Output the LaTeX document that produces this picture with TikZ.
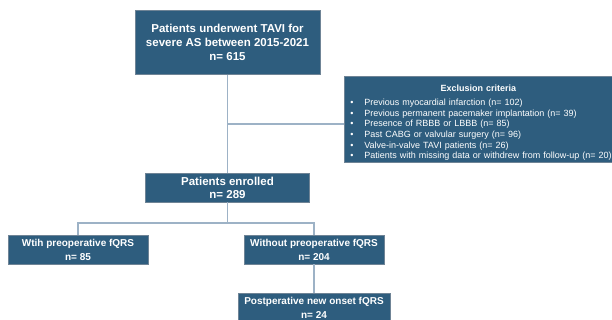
\documentclass[tikz,border=0pt]{standalone}
\usepackage{fontspec}
\setmainfont{Liberation Sans}
\definecolor{boxBlue}{HTML}{2E5D7E}
\definecolor{boxEdge}{HTML}{6F8496}
\definecolor{lineBlue}{HTML}{9DB2C6}
\newcommand{\exItem}[1]{\hspace*{6pt}\makebox[14pt][l]{\textbullet}#1}
\begin{document}
\begin{tikzpicture}[x=1pt,y=-1pt,
    flowBox/.style={draw=boxEdge,line width=0.6pt,fill=boxBlue,text=white,
      inner sep=0pt,align=center,font=\fontsize{10}{14}\selectfont\bfseries},
    link/.style={draw=lineBlue,line width=1.2pt}]
  \useasboundingbox (0,0) rectangle (612,320);
  \pgfmathsetmacro{\splitY}{223}
  \pgfmathsetmacro{\exclY}{124}
  % main column
  \node[flowBox,minimum width=185pt,minimum height=64pt,
    font=\fontsize{11.5}{14}\selectfont\bfseries] (tavi) at (227.5,42.5)
    {Patients underwent TAVI for\\severe AS between 2015-2021\\n= 615};
  \node[flowBox,minimum width=164pt,minimum height=29pt,
    font=\fontsize{11.5}{13}\selectfont\bfseries] (enrolled) at (227.5,187.5)
    {Patients enrolled\\n= 289};
  % exclusion box
  \node[flowBox,anchor=north west,minimum width=268pt,minimum height=86pt,
    text width=268pt,align=left,font=\fontsize{9}{10.7}\selectfont] (excl) at (344,76)
    {\rule{0pt}{14pt}\makebox[268pt][c]{\bfseries Exclusion criteria}\\[3pt]
     \exItem{Previous myocardial infarction (n= 102)}\\
     \exItem{Previous permanent pacemaker implantation (n= 39)}\\
     \exItem{Presence of RBBB or LBBB (n= 85)}\\
     \exItem{Past CABG or valvular surgery (n= 96)}\\
     \exItem{Valve-in-valve TAVI patients (n= 26)}\\
     \exItem{Patients with missing data or withdrew from follow-up (n= 20)}};
  % groups
  \node[flowBox,minimum width=140pt,minimum height=29pt] (withFqrs) at (78,249.5)
    {Wtih preoperative fQRS\\n= 85};
  \node[flowBox,minimum width=140pt,minimum height=29pt] (withoutFqrs) at (314,249.5)
    {Without preoperative fQRS\\n= 204};
  \node[flowBox,minimum width=152pt,minimum height=29pt] (newFqrs) at (314,307.5)
    {Postperative new onset fQRS\\n= 24};
  % connectors
  \coordinate (exclJoin) at (227.5,\exclY);
  \coordinate (split) at (227.5,\splitY);
  \draw[link] (tavi.south) -- (enrolled.north);
  \draw[link] (exclJoin) -- (exclJoin -| excl.west);
  \draw[link] (enrolled.south) -- (split);
  \draw[link] (withFqrs.north) |- (split) -| (withoutFqrs.north);
  \draw[link] (withoutFqrs.south) -- (newFqrs.north);
\end{tikzpicture}
\end{document}
